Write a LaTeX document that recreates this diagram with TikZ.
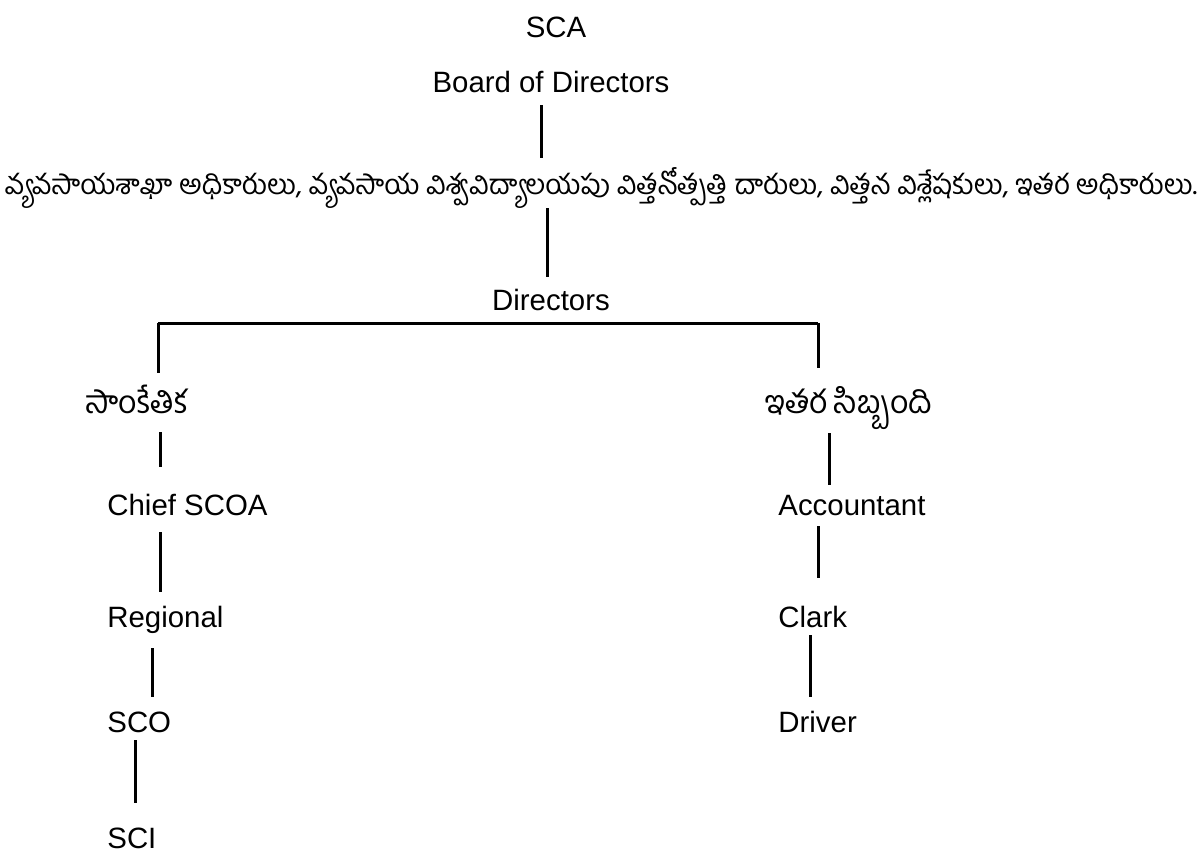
\documentclass[tikz,border=0pt]{standalone}
\usepackage{fontspec}
\setmainfont{Liberation Sans}
\newfontfamily\telfont[Script=Telugu]{Hind Guntur}
\begin{document}
\begin{tikzpicture}[x=0.5pt,y=-0.5pt,
  en/.style={inner sep=0pt, font=\fontsize{14.7pt}{17pt}\selectfont, text height=10.5pt, text depth=3pt},
  te/.style={inner sep=0pt, font=\telfont\fontsize{13.9pt}{16pt}\selectfont, text height=14pt, text depth=6pt},
  tl/.style={inner sep=0pt, font=\telfont\fontsize{16pt}{18pt}\selectfont, text height=14pt, text depth=6pt},
  conn/.style={line width=1.5pt}]
\useasboundingbox (0,0) rectangle (1203,857);
% column coordinates
\coordinate (v1) at (541,0);
\coordinate (v2) at (547,0);
\coordinate (bl) at (158,323);
\coordinate (br) at (818,323);
\coordinate (la) at (160,0);
\coordinate (lb) at (160,0);
\coordinate (lc) at (152,0);
\coordinate (ld) at (135,0);
\coordinate (ra) at (829,0);
\coordinate (rb) at (818,0);
\coordinate (rc) at (810,0);
% nodes
\node[en, anchor=base] (sca) at (556,37) {SCA};
\node[en, anchor=base] (board) at (551,92) {Board of Directors};
\node[te, anchor=base] (tel) at (601,194) {వ్యవసాయశాఖా అధికారులు, వ్యవసాయ విశ్వవిద్యాలయపు విత్తనోత్పత్తి దారులు, విత్తన విశ్లేషకులు, ఇతర అధికారులు.};
\node[en, anchor=base] (dir) at (551,310) {Directors};
\node[tl, anchor=base west] (tech) at (85,413) {సాంకేతిక};
\node[tl, anchor=base west] (oth) at (765,413) {ఇతర సిబ్బంది};
\node[en, anchor=base west] (chief) at (107,515) {Chief SCOA};
\node[en, anchor=base west] (reg) at (107,627) {Regional};
\node[en, anchor=base west] (sco) at (107,732) {SCO};
\node[en, anchor=base west] (sci) at (107,848) {SCI};
\node[en, anchor=base west] (acc) at (778,515) {Accountant};
\node[en, anchor=base west] (clark) at (778,627) {Clark};
\node[en, anchor=base west] (drv) at (778,732) {Driver};
% connectors
\draw[conn, shorten <=3.5pt, shorten >=4pt] (board.south -| v1) -- (tel.north -| v1);
\draw[conn, shorten <=1pt, shorten >=6pt] (tel.south -| v2) -- (dir.north -| v2);
\draw[conn] (bl) -- (br);
\draw[conn, shorten >=6pt] (bl) -- (bl |- tech.north);
\draw[conn, shorten >=8.5pt] (br) -- (br |- oth.north);
\draw[conn, shorten <=3.5pt, shorten >=13.5pt] (tech.south -| la) -- (chief.north -| la);
\draw[conn, shorten <=5.5pt, shorten >=7pt] (chief.south -| lb) -- (reg.north -| lb);
\draw[conn, shorten <=7.5pt, shorten >=7pt] (reg.south -| lc) -- (sco.north -| lc);
\draw[conn, shorten <=1pt, shorten >=12pt] (sco.south -| ld) -- (sci.north -| ld);
\draw[conn, shorten <=4pt, shorten >=4.5pt] (oth.south -| ra) -- (acc.north -| ra);
\draw[conn, shorten <=2.5pt, shorten >=14pt] (acc.south -| rb) -- (clark.north -| rb);
\draw[conn, shorten <=1pt, shorten >=7pt] (clark.south -| rc) -- (drv.north -| rc);
\end{tikzpicture}
\end{document}
